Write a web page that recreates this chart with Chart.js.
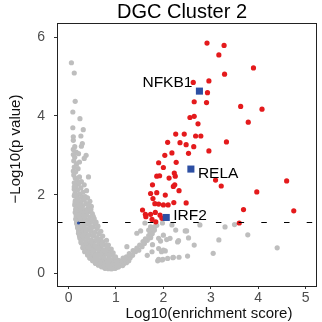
<!DOCTYPE html>
<html>
<head>
<meta charset="utf-8">
<script src="https://cdn.jsdelivr.net/npm/chart.js@4.4.0/dist/chart.umd.min.js"></script>
<style>
html, body { margin: 0; padding: 0; background: #fff; }
#chart { display: block; }
</style>
</head>
<body>
<canvas id="chart" width="322" height="322"></canvas>
<script>
'use strict';
// [log10 enrichment score, -log10 p]
const greyPoints = [
  [0.06,5.35],[0.12,5.09],[0.14,4.37],[0.09,4.10],[0.24,3.93],[0.09,3.70],[0.31,3.65],[0.10,3.47],[0.26,3.49],
  [0.10,3.38],[0.29,3.30],[0.27,3.23],[0.10,3.15],[0.13,3.22],[0.16,3.08],[0.21,3.04],[0.37,3.00],[0.33,2.92],
  [0.10,3.02],[0.13,2.95],[0.23,2.83],[0.11,2.86],[0.17,2.78],[0.12,2.70],[0.20,2.66],[0.10,2.60],[0.15,2.58],
  [0.11,2.50],[0.23,2.45],[0.42,2.45],[0.14,2.42],[0.18,2.36],[0.27,2.33],[0.12,2.30],[0.21,2.27],[0.33,2.25],
  [0.15,2.20],[0.26,2.17],[0.12,2.14],[0.19,2.12],[0.38,2.10],[0.30,2.06],[0.14,2.04],[0.23,2.01],
  [0.12,1.97],[0.17,1.95],[0.28,1.93],[0.40,1.92],[0.20,1.88],[0.33,1.86],[0.14,1.84],[0.45,1.83],[0.25,1.81],
  [0.18,1.78],[0.37,1.77],[0.13,1.74],[0.30,1.72],[0.22,1.70],[0.48,1.70],[0.41,1.66],[0.16,1.65],[0.27,1.63],
  [0.35,1.61],[0.20,1.58],[0.44,1.57],[0.14,1.55],[0.31,1.54],[0.24,1.52],[0.50,1.52],
  [0.17,1.48],[0.38,1.48],[0.28,1.45],[0.45,1.43],[0.21,1.42],[0.34,1.40],[0.15,1.38],[0.54,1.39],[0.26,1.36],
  [0.41,1.35],[0.19,1.33],[0.48,1.32],[0.31,1.31],
  [0.17,1.27],[0.23,1.26],[0.37,1.26],[0.56,1.25],[0.44,1.22],[0.29,1.21],[0.19,1.19],[0.51,1.18],[0.34,1.16],
  [0.60,1.14],[0.25,1.13],[0.41,1.12],[0.21,1.08],[0.47,1.08],[0.31,1.06],[0.56,1.05],[0.37,1.02],[0.64,1.01],
  [0.27,1.00],[0.44,0.98],
  [0.23,0.95],[0.52,0.95],[0.34,0.93],[0.60,0.91],[0.40,0.89],[0.68,0.88],[0.29,0.87],[0.47,0.85],[0.56,0.83],
  [0.37,0.81],[0.26,0.80],[0.72,0.80],[0.64,0.78],[0.44,0.77],[0.52,0.74],[0.32,0.73],[0.77,0.72],[0.60,0.70],
  [0.40,0.69],
  [0.68,0.67],[0.48,0.66],[0.30,0.65],[0.82,0.64],[0.56,0.62],[0.38,0.60],[0.74,0.60],[0.64,0.57],[0.86,0.56],
  [0.46,0.55],[0.34,0.55],[0.70,0.53],[0.55,0.51],[0.79,0.50],
  [0.42,0.47],[0.91,0.47],[0.63,0.46],[0.50,0.43],[0.75,0.43],[0.85,0.40],[0.45,0.39],[0.58,0.38],[0.96,0.37],
  [0.69,0.36],[0.51,0.33],[0.80,0.33],[1.05,0.33],[0.63,0.30],[0.92,0.30],
  [0.57,0.26],[0.73,0.27],[1.10,0.28],[0.85,0.25],[1.00,0.25],[0.64,0.22],[0.78,0.20],[0.93,0.19],[1.16,0.24],
  [0.70,0.17],[1.06,0.19],[0.84,0.15],[0.99,0.14],[0.77,0.13],[0.90,0.12],[1.22,0.27],
  [0.12,2.20],[0.13,2.00],[0.14,1.80],[0.15,1.62],[0.16,1.46],[0.17,1.32],[0.19,1.16],[0.21,1.02],[0.24,0.89],
  [0.27,0.77],[0.31,0.66],[0.35,0.56],[0.40,0.47],[0.45,0.39],[0.51,0.32],[0.57,0.26],[0.63,0.21],[0.70,0.17],
  [0.77,0.14],[0.84,0.12],[0.91,0.12],[0.98,0.13],[1.05,0.16],
  [0.20,1.90],[0.35,1.95],[0.43,1.75],[0.26,1.68],[0.38,1.58],[0.47,1.62],[0.22,1.48],[0.52,1.45],[0.33,1.44],
  [0.58,1.30],[0.40,1.29],[0.27,1.30],[0.62,1.20],[0.48,1.15],[0.36,1.10],[0.68,1.07],[0.53,1.00],[0.30,0.96],
  [0.72,0.95],[0.62,0.85],[0.80,0.84],[0.48,0.80],[0.36,0.76],[0.70,0.74],[0.84,0.72],[0.56,0.70],[0.44,0.64],
  [0.90,0.62],[0.62,0.64],[0.78,0.56],[0.52,0.58],[0.40,0.52],[0.94,0.52],[0.68,0.48],[0.86,0.46],[0.56,0.45],
  [0.99,0.42],[0.74,0.38],[0.62,0.36],[0.88,0.35],[1.00,0.30],[0.70,0.30],[0.56,0.30],[0.82,0.28],[1.08,0.24],
  [1.14,0.20],[0.95,0.22],[0.88,0.17],[1.02,0.18],[0.74,0.22],[0.66,0.26],[1.20,0.31],[1.25,0.37],[1.15,0.39],
  [1.12,0.32],[1.27,0.32],[1.18,0.36],[1.30,0.40],[1.22,0.42],[1.35,0.46],[1.28,0.50],[1.41,0.55],[1.36,0.58],
  [1.48,0.59],[1.44,0.64],[1.55,0.68],[1.50,0.72],[1.60,0.76],[1.57,0.81],[1.66,0.84],[1.62,0.88],[1.73,0.91],
  [1.69,0.96],[1.76,1.01],[1.72,1.06],[1.81,1.10],[1.69,1.10],[1.78,1.16],[1.73,1.18],[1.81,1.18],[1.86,1.22],
  [1.61,1.28],[1.23,0.68],[1.44,1.02],[1.52,1.08],
  [1.98,1.28],[2.18,1.23],[2.49,1.08],[2.77,1.23],[3.30,1.18],[3.50,1.24],[3.78,0.98],[4.40,0.65],[3.17,0.85],
  [3.05,0.51],[2.65,0.72],[2.53,0.90],[2.30,0.80],[2.07,0.86],[1.94,0.82],[2.51,0.44],[2.33,0.41],[2.20,0.40],
  [1.99,0.36],[1.90,0.36],[2.04,0.57],[1.96,0.55],[1.77,0.73],[1.73,0.91],[1.80,1.10],[2.26,1.10],[2.32,0.83],
  [2.14,0.89],[1.90,0.89],[2.00,0.97],[1.76,1.01],[1.90,0.63],[2.00,0.59],[2.09,0.38],[1.97,0.34],[1.88,0.32],
  [2.21,0.41],[1.76,0.55],[1.66,0.46],[2.46,1.08]
];
const redPoints = [
  [2.92,5.85],[3.28,5.79],[3.17,5.55],[3.90,5.22],[3.29,5.06],[2.96,4.89],[2.63,4.85],[2.93,4.59],[2.65,4.36],
  [2.91,4.34],[3.63,4.24],[4.08,4.17],[2.56,3.96],[2.65,3.99],[2.73,3.80],[3.79,3.84],
  [2.26,3.54],[2.44,3.54],[2.68,3.49],[2.79,3.49],[2.09,3.33],[2.35,3.32],[2.48,3.27],[2.64,3.22],[3.33,3.34],
  [2.96,3.11],[2.53,3.05],[2.18,3.06],[2.03,3.00],[1.90,2.81],[2.27,2.82],[2.00,2.69],
  [1.86,2.47],[1.92,2.48],[2.12,2.42],[2.23,2.55],[2.25,2.47],
  [2.21,2.21],[2.24,2.25],[2.33,2.10],[3.10,2.37],[3.22,2.22],[4.60,2.35],[1.77,2.25],[1.73,2.03],[1.86,2.05],
  [2.04,1.99],[3.97,2.07],[1.78,1.90],[1.82,1.77],[1.90,1.76],[2.00,1.74],[2.10,1.74],[2.22,1.80],[2.48,1.79],
  [1.56,1.61],[1.62,1.50],[1.63,1.44],[1.73,1.50],[1.83,1.55],[1.76,1.37],[1.93,1.48],[1.97,1.40],[1.84,1.31],
  [3.69,1.62],[4.75,1.59],[3.60,1.28]
];
const genes = ['NFKB1', 'RELA', 'IRF2'];
const geneX = [2.76, 2.58, 2.06];
const geneY = [4.63, 2.65, 1.42];
const otherBlue = [[0.21, 1.28]];
const xTicks = [0, 1, 2, 3, 4, 5];
const yTicks = [0, 2, 4, 6];
const pThreshold = 1.3;

const FONT = 'Liberation Sans, Arial, sans-serif';
Chart.defaults.font.family = FONT;

const toXY = arr => arr.map(p => ({ x: p[0], y: p[1] }));
const labelPos = {
  NFKB1: { dx: -7, dy: -8, align: 'right' },
  RELA: { dx: 7, dy: 5, align: 'left' },
  IRF2: { dx: 7, dy: -2, align: 'left' }
};

const decor = {
  id: 'decor',
  afterDatasetsDraw(chart) {
    const { ctx, chartArea: a, scales: { x, y } } = chart;
    ctx.save();
    const ty = Math.round(y.getPixelForValue(pThreshold)) + 0.5;
    ctx.strokeStyle = '#000';
    ctx.lineWidth = 1.2;
    ctx.setLineDash([5.5, 17.2]);
    ctx.beginPath();
    ctx.moveTo(a.left, ty);
    ctx.lineTo(a.right, ty);
    ctx.stroke();
    ctx.setLineDash([]);

    ctx.font = '15.5px ' + FONT;
    ctx.fillStyle = '#000';
    ctx.textBaseline = 'middle';
    genes.forEach((g, i) => {
      const s = labelPos[g];
      ctx.textAlign = s.align;
      ctx.fillText(g, x.getPixelForValue(geneX[i]) + s.dx, y.getPixelForValue(geneY[i]) + s.dy);
    });

    ctx.strokeStyle = '#222';
    ctx.lineWidth = 1;
    ctx.strokeRect(a.left + 0.5, a.top + 0.5, a.right - a.left - 1, a.bottom - a.top);
    ctx.restore();
  },
  afterDraw(chart) {
    const { ctx } = chart;
    ctx.save();
    ctx.fillStyle = '#000';
    ctx.textAlign = 'center';
    ctx.textBaseline = 'alphabetic';
    ctx.font = '20px ' + FONT;
    ctx.fillText('DGC Cluster 2', 182, 18);
    ctx.fillStyle = '#111';
    ctx.font = '15px ' + FONT;
    ctx.fillText('Log10(enrichment score)', 209, 318);
    ctx.translate(19.5, 149);
    ctx.rotate(-Math.PI / 2);
    ctx.fillText('\u2212Log10(p value)', 0, 0);
    ctx.restore();
  }
};

new Chart(document.getElementById('chart'), {
  type: 'scatter',
  data: {
    datasets: [
      {
        label: 'genes',
        data: geneX.map((v, i) => ({ x: v, y: geneY[i] })),
        pointStyle: 'rect',
        pointRadius: 5,
        backgroundColor: '#2d4fa3',
        borderWidth: 0,
        order: 0
      },
      {
        label: 'other',
        data: toXY(otherBlue),
        pointRadius: 1.6,
        backgroundColor: '#2d4fa3',
        borderWidth: 0,
        order: 1
      },
      {
        label: 'significant',
        data: toXY(redPoints),
        pointRadius: 2.6,
        backgroundColor: '#e41a1c',
        borderWidth: 0,
        order: 2
      },
      {
        label: 'ns',
        data: toXY(greyPoints),
        pointRadius: 2.6,
        backgroundColor: '#bebebe',
        borderWidth: 0,
        order: 3
      }
    ]
  },
  options: {
    responsive: false,
    animation: false,
    devicePixelRatio: 1,
    events: [],
    layout: { padding: { top: 23, right: 2, left: 0, bottom: 0 } },
    plugins: { legend: { display: false }, tooltip: { enabled: false }, title: { display: false } },
    scales: {
      x: {
        type: 'linear',
        min: -0.244,
        max: 5.24,
        afterBuildTicks: s => { s.ticks = xTicks.map(v => ({ value: v })); },
        afterFit: s => { s.height = 36; },
        ticks: { color: '#4d4d4d', font: { size: 14 }, padding: 1, maxRotation: 0 },
        grid: { drawOnChartArea: false, tickLength: 3, color: '#333' },
        border: { display: false }
      },
      y: {
        type: 'linear',
        min: -0.32,
        max: 6.36,
        afterBuildTicks: s => { s.ticks = yTicks.map(v => ({ value: v })); },
        afterFit: s => { s.width = 57; },
        ticks: { color: '#4d4d4d', font: { size: 14 }, padding: 9 },
        grid: { drawOnChartArea: false, tickLength: 3, color: '#333' },
        border: { display: false }
      }
    }
  },
  plugins: [decor]
});
</script>
</body>
</html>
